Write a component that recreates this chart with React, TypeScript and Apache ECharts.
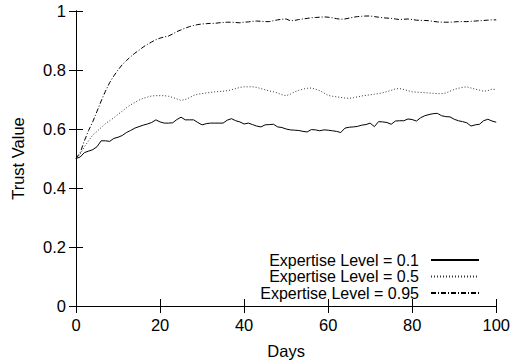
import React, { useEffect, useRef } from "react";
import * as echarts from "echarts";

const days: number[] = Array.from({ length: 101 }, (_, i) => i);

const level01: number[] = [
  0.5, 0.505, 0.52, 0.525, 0.53, 0.54, 0.56, 0.56, 0.558, 0.568,
  0.572, 0.578, 0.588, 0.595, 0.603, 0.608, 0.613, 0.617, 0.622, 0.631,
  0.624, 0.62, 0.62, 0.621, 0.632, 0.64, 0.631, 0.631, 0.631, 0.622,
  0.614, 0.618, 0.62, 0.62, 0.62, 0.62, 0.63, 0.635, 0.628, 0.624,
  0.617, 0.62, 0.615, 0.61, 0.607, 0.614, 0.615, 0.616, 0.607, 0.605,
  0.6, 0.597, 0.596, 0.595, 0.592, 0.59, 0.598, 0.597, 0.594, 0.597,
  0.596, 0.594, 0.592, 0.588, 0.603, 0.606, 0.607, 0.609, 0.613, 0.615,
  0.62, 0.608, 0.625, 0.624, 0.622, 0.616, 0.627, 0.628, 0.628, 0.634,
  0.632, 0.627, 0.638, 0.645, 0.649, 0.652, 0.653, 0.645, 0.642, 0.641,
  0.633, 0.628, 0.625, 0.621, 0.61, 0.614, 0.616, 0.628, 0.633, 0.627,
  0.623,
];

const level05: number[] = [
  0.5, 0.515, 0.54, 0.56, 0.58, 0.592, 0.605, 0.618, 0.628, 0.638,
  0.65, 0.66, 0.672, 0.682, 0.69, 0.698, 0.704, 0.708, 0.712, 0.713,
  0.713, 0.713, 0.711, 0.707, 0.702, 0.697, 0.7, 0.706, 0.714, 0.718,
  0.72, 0.722, 0.724, 0.726, 0.727, 0.728, 0.73, 0.733, 0.737, 0.741,
  0.743, 0.743, 0.743, 0.741, 0.737, 0.733, 0.729, 0.726, 0.722, 0.716,
  0.713, 0.718, 0.726, 0.731, 0.735, 0.738, 0.739, 0.735, 0.73, 0.722,
  0.714, 0.711, 0.709, 0.707, 0.705, 0.704, 0.706, 0.709, 0.712, 0.714,
  0.716, 0.718, 0.72, 0.723, 0.727, 0.731, 0.736, 0.737, 0.734, 0.73,
  0.726, 0.725, 0.724, 0.723, 0.722, 0.721, 0.72, 0.72, 0.722, 0.728,
  0.734, 0.738, 0.741, 0.743, 0.739, 0.735, 0.732, 0.728, 0.73, 0.735,
  0.734,
];

const level095: number[] = [
  0.5, 0.52, 0.56, 0.595, 0.625, 0.66, 0.695, 0.728, 0.757, 0.78,
  0.8, 0.818, 0.832, 0.845, 0.857, 0.867, 0.878, 0.887, 0.895, 0.903,
  0.908, 0.912, 0.915, 0.922, 0.93, 0.936, 0.942, 0.947, 0.951, 0.954,
  0.956, 0.957, 0.958, 0.958, 0.96, 0.961, 0.962, 0.962, 0.961, 0.96,
  0.962, 0.963, 0.965, 0.966, 0.965, 0.964, 0.964, 0.967, 0.97, 0.972,
  0.973, 0.967, 0.968, 0.971, 0.973, 0.975, 0.977, 0.978, 0.979, 0.98,
  0.979, 0.977, 0.974, 0.972, 0.973, 0.976, 0.979, 0.981, 0.982, 0.983,
  0.983, 0.981, 0.979, 0.977, 0.976, 0.975, 0.973, 0.971, 0.972, 0.973,
  0.971, 0.969, 0.968, 0.968, 0.967, 0.965, 0.963, 0.962, 0.962, 0.962,
  0.963, 0.964, 0.964, 0.964, 0.965, 0.966, 0.967, 0.968, 0.969, 0.97,
  0.97,
];

const seriesNames: string[] = [
  "Expertise Level = 0.1",
  "Expertise Level = 0.5",
  "Expertise Level = 0.95",
];

const FONT = "'Liberation Sans', Arial, Helvetica, sans-serif";
const FS = 16.5;
const LEGEND_FS = 16;

export default function App() {
  const ref = useRef<HTMLDivElement>(null);

  useEffect(() => {
    if (!ref.current) return;
    const chart = echarts.init(ref.current, undefined, { renderer: "svg" });

    const axisLine = { show: true, lineStyle: { color: "#000", width: 1 } };
    const tick = { show: true, inside: true, length: 7, lineStyle: { color: "#000", width: 1 } };
    const label = { color: "#000", fontSize: FS, fontFamily: FONT };

    const mk = (name: string, vals: number[], dash: any, color: string) => ({
      name,
      type: "line",
      xAxisIndex: 0,
      yAxisIndex: 0,
      data: days.map((d, i) => [d, vals[i]]),
      symbol: "none",
      showSymbol: false,
      lineStyle: { color, width: 1, type: dash },
      itemStyle: { color },
    });

    const legendTops = [252, 268.5, 285];

    chart.setOption({
      animation: false,
      backgroundColor: "#fff",
      grid: { left: 76, right: 13, top: 11, bottom: 55, containLabel: false },
      xAxis: [
        {
          type: "value",
          min: 0,
          max: 100,
          interval: 20,
          position: "bottom",
          name: "Days",
          nameLocation: "middle",
          nameGap: 36,
          nameTextStyle: { color: "#000", fontSize: FS, fontFamily: FONT },
          axisLine,
          axisTick: tick,
          axisLabel: { ...label, margin: 10 },
          splitLine: { show: false },
        },
        {
          type: "value",
          min: 0,
          max: 100,
          interval: 20,
          position: "top",
          axisLine,
          axisTick: tick,
          axisLabel: { show: false },
          splitLine: { show: false },
        },
      ],
      yAxis: [
        {
          type: "value",
          min: 0,
          max: 1,
          interval: 0.2,
          position: "left",
          name: "Trust Value",
          nameLocation: "middle",
          nameGap: 50,
          nameTextStyle: { color: "#000", fontSize: FS, fontFamily: FONT },
          axisLine,
          axisTick: tick,
          axisLabel: { ...label, margin: 10 },
          splitLine: { show: false },
        },
        {
          type: "value",
          min: 0,
          max: 1,
          interval: 0.2,
          position: "right",
          axisLine,
          axisTick: tick,
          axisLabel: { show: false },
          splitLine: { show: false },
        },
      ],
      legend: seriesNames.map((n, i) => ({
        data: [n],
        orient: "vertical",
        right: 33,
        top: legendTops[i],
        align: "right",
        itemWidth: 48,
        itemHeight: 14,
        selectedMode: false,
        padding: 0,
        itemStyle: { opacity: 0 },
        textStyle: {
          color: "#000",
          fontSize: LEGEND_FS,
          fontFamily: FONT,
          lineHeight: 14,
          padding: [0, 7, 0, 0],
        },
      })),
      series: [
        mk(seriesNames[0], level01, "solid", "#000"),
        mk(seriesNames[1], level05, [1, 2], "#333"),
        mk(seriesNames[2], level095, [5, 2, 1, 2], "#000"),
      ],
    });

    return () => chart.dispose();
  }, []);

  return (
    <div
      ref={ref}
      style={{ position: "fixed", left: 0, top: 0, width: 513, height: 364 }}
    />
  );
}
